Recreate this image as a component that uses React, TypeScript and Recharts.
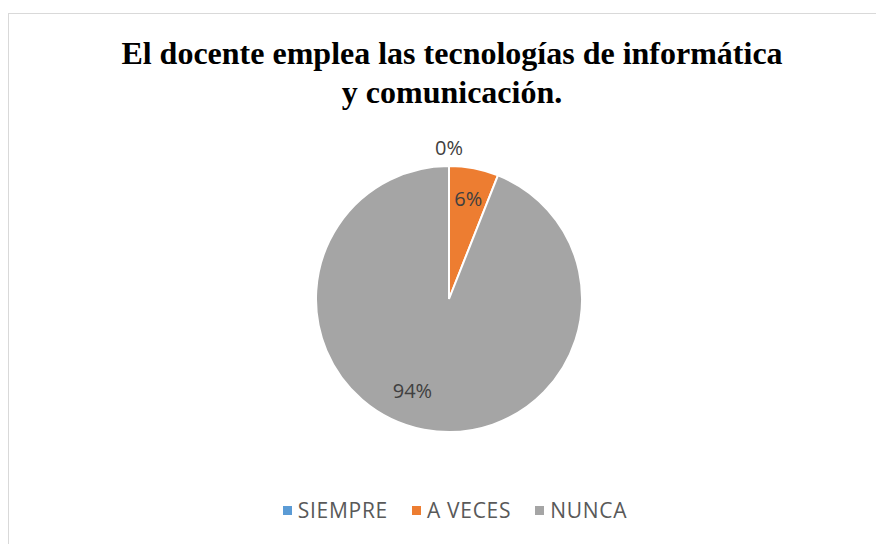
import { Cell, Pie, PieChart } from "recharts";

const categories = ["SIEMPRE", "A VECES", "NUNCA"];
const percents = [0, 6, 94];
const sliceColors = ["#5B9BD5", "#ED7D31", "#A5A5A5"];
const titleLines = [
  "El docente emplea las tecnologías de informática",
  "y comunicación.",
];

const data = categories.map((name, i) => ({ name, value: percents[i] }));

const RAD = Math.PI / 180;

// excel's "best fit" label spots, roughly
function renderLabel(props: any) {
  const { cx, cy, midAngle, outerRadius, index, value } = props;
  let r = outerRadius * 0.77;
  let angle = midAngle;
  if (value === 0) r = outerRadius + 19;
  if (index === 2) {
    r = outerRadius * 0.74;
    angle = midAngle - 11;
  }
  const x = cx + r * Math.cos(-angle * RAD);
  const y = cy + r * Math.sin(-angle * RAD);
  return (
    <text
      x={x}
      y={y}
      fill="#404040"
      fontSize={20}
      fontFamily="'Open Sans', sans-serif"
      textAnchor="middle"
      dominantBaseline="central"
    >
      {`${value}%`}
    </text>
  );
}

function ChartLegend() {
  return (
    <div
      style={{
        position: "absolute",
        left: 0,
        top: 496,
        width: 876,
        display: "flex",
        justifyContent: "center",
        gap: 24,
        fontFamily: "'Open Sans', sans-serif",
        fontSize: 21,
        letterSpacing: 0.7,
        lineHeight: "28px",
        color: "#595959",
        paddingLeft: 34,
        boxSizing: "border-box",
      }}
    >
      {categories.map((name, i) => (
        <div key={name} style={{ display: "flex", alignItems: "center" }}>
          <span
            style={{
              width: 9,
              height: 9,
              background: sliceColors[i],
              marginRight: 6,
              display: "inline-block",
            }}
          />
          <span>{name}</span>
        </div>
      ))}
    </div>
  );
}

export default function App() {
  return (
    <div style={{ position: "absolute", left: 0, top: 0, width: 876, height: 544, background: "#fff" }}>
      <div
        style={{
          position: "absolute",
          left: 8,
          top: 13,
          width: 868,
          height: 531,
          boxSizing: "border-box",
          borderTop: "1.5px solid #d9d9d9",
          borderLeft: "1.5px solid #d9d9d9",
        }}
      />
      <svg width={876} height={120} style={{ position: "absolute", left: 0, top: 0 }}>
        {titleLines.map((line, i) => (
          <text
            key={line}
            x={452}
            y={64 + i * 39}
            textAnchor="middle"
            fontFamily="'Liberation Serif', 'Times New Roman', serif"
            fontWeight="bold"
            fontSize={32}
            fill="#000"
          >
            {line}
          </text>
        ))}
      </svg>
      <div style={{ position: "absolute", left: 0, top: 0 }}>
        <PieChart width={876} height={490} margin={{ top: 0, right: 0, bottom: 0, left: 0 }}>
          <Pie
            data={data}
            dataKey="value"
            nameKey="name"
            cx={449}
            cy={299}
            outerRadius={133}
            startAngle={90}
            endAngle={-270}
            stroke="#fff"
            strokeWidth={2}
            label={renderLabel}
            labelLine={false}
            isAnimationActive={false}
          >
            {data.map((d, i) => (
              <Cell key={d.name} fill={sliceColors[i]} />
            ))}
          </Pie>
        </PieChart>
      </div>
      <ChartLegend />
    </div>
  );
}
